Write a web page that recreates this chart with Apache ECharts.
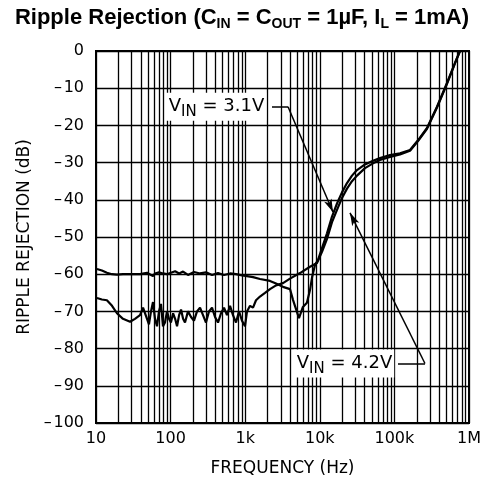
<!DOCTYPE html>
<html><head><meta charset="utf-8">
<script src="https://cdn.jsdelivr.net/npm/echarts@6/dist/echarts.min.js"></script>
<style>html,body{margin:0;padding:0;background:#fff}#c{width:484px;height:495px}</style>
</head><body><div id="c"></div>
<script>
// ---- data ----
const xTickValues = [10, 100, 1000, 10000, 100000, 1000000];
const xTickLabels = ['10', '100', '1k', '10k', '100k', '1M'];
const minorFreqs = [20,30,40,50,60,70,80,90,200,300,400,500,600,700,800,900,2000,3000,4000,5000,6000,7000,8000,9000,20000,30000,40000,50000,60000,70000,80000,90000,200000,300000,400000,500000,600000,700000,800000,900000];
// V_IN = 3.1V curve (freq Hz, dB)
const freqA = [10.3,12,14,16.4,19.1,23,28.6,38.9,48.3,54.6,58.1,61.8,69.9,79.1,89.5,101,115,130,147,171,206,248,298,359,432,520,626,753,906,1057,1273,1579,2150,2588,3211,3985,4370,5260,5940,6720,7400,7880,8620,9450,10700,12490,14570,17010,19840,23150,27010,31530,40360,51660,64120,87310,118900,161900,207200,273500,372400,507000,649000,757000,1000000];
const dbA = [-58.6,-59,-59.6,-60,-60.1,-60,-60,-60,-59.6,-60.2,-60.5,-59.8,-59.5,-59.8,-60,-59.6,-59.2,-59.8,-59.3,-60.2,-59.4,-59.8,-59.5,-60.2,-59.7,-60.2,-59.8,-60,-60.3,-60.5,-60.8,-61.3,-61.8,-62.5,-63.4,-64,-66.9,-71.8,-68.8,-67.7,-64.2,-60.8,-57.5,-56.2,-53,-49,-44.5,-41,-38,-35.5,-33.5,-32,-30.5,-29.5,-28.8,-28,-27.5,-26.6,-24,-20.7,-15,-8.6,-3.2,0,0];
// V_IN = 4.2V curve (freq Hz, dB)
const freqB = [10.3,12,14,16.4,19.1,23,28.6,33.3,38.9,42.7,45.4,48.3,51.3,54.6,58.1,61.8,65.7,69.9,74.3,79.1,84.1,89.5,95.2,101,108,115,122,130,138,147,156,171,188,206,226,248,272,298,327,359,394,432,474,520,570,626,686,753,826,906,994,1057,1160,1273,1396,1579,1843,2150,2588,3211,3985,5427,7390,9173,10700,12490,14570,17010,19840,23150,27010,31530,40360,51660,64120,87310,118900,161900,207200,273500,372400,507000,649000,757000,1000000];
const dbB = [-66.4,-66.8,-67,-68.5,-70.5,-72,-72.8,-72,-71,-69,-68.5,-72,-73.5,-70,-67.5,-72,-74,-70,-68,-74,-73,-70,-72,-73,-70.5,-72,-74,-71,-69.5,-72,-73,-70,-71.5,-72.5,-70,-69,-71,-73,-70,-69,-71.5,-73,-70.5,-69,-71,-68.5,-71,-73,-70,-72.5,-74,-70,-68.5,-69,-67,-66,-65,-64,-63,-62.4,-61.2,-59.7,-58,-57,-54,-50.5,-46,-42.7,-39.5,-37,-35,-33.5,-31.5,-30.2,-29.3,-28.5,-27.8,-26.8,-24.2,-20.9,-15.2,-8.8,-3.3,0,0];
// annotations (data space): label position, leader corner, arrow tip
const ann31 = { text: '3.1V', label: [406, -15], lineStart: [2285, -15], corner: [3750, -15], tip: [15000, -43.3] };
const ann42 = { text: '4.2V', label: [21100, -84], lineStart: [111700, -84], corner: [257000, -84], tip: [25400, -43.5] };

const zip = (xs, ys) => xs.map((x, i) => [x, ys[i]]);
const FONT = 'DejaVu Sans';
const ink = '#000';

function annLines(a) {
  return [
    [{ coord: a.lineStart, symbol: 'none' }, { coord: a.corner, symbol: 'none' }],
    [{ coord: a.corner, symbol: 'none' }, { coord: a.tip, symbol: 'arrow', symbolSize: [6, 13] }]
  ];
}
function annLabel(a) {
  return {
    coord: a.label, value: a.text,
    label: { formatter: '{v|V}{s|IN}{v| = ' + a.text + '}' }
  };
}

const chart = echarts.init(document.getElementById('c'), null, { renderer: 'canvas' });
chart.setOption({
  animation: false,
  backgroundColor: '#fff',
  title: {
    left: 'center', top: 0,
    text: '{a|Ripple Rejection (C}{s|IN}{a| = C}{s|OUT}{a| = 1µF, I}{s|L}{a| = 1mA)}',
    textStyle: {
      rich: {
        a: { fontFamily: 'Liberation Sans', fontWeight: 'bold', fontSize: 22, color: ink, lineHeight: 26 },
        s: { fontFamily: 'Liberation Sans', fontWeight: 'bold', fontSize: 14, color: ink, lineHeight: 14, verticalAlign: 'bottom' }
      }
    }
  },
  grid: { left: 96, right: 15, top: 51, bottom: 72, show: true, borderColor: ink, borderWidth: 2, containLabel: false },
  xAxis: {
    type: 'log', logBase: 10, min: 10, max: 1000000,
    name: 'FREQUENCY (Hz)', nameLocation: 'middle', nameGap: 37,
    nameTextStyle: { fontFamily: FONT, fontSize: 17, color: ink },
    axisLine: { show: true, lineStyle: { color: ink, width: 2 } },
    axisTick: { show: false },
    splitLine: { show: true, lineStyle: { color: ink, width: 1.3 } },
    axisLabel: {
      fontFamily: FONT, fontSize: 16, color: ink, margin: 8,
      formatter: v => { const i = xTickValues.findIndex(t => Math.abs(t - v) / t < 1e-6); return i >= 0 ? xTickLabels[i] : ''; }
    }
  },
  yAxis: {
    type: 'value', min: -100, max: 0, interval: 10,
    name: 'RIPPLE REJECTION (dB)', nameLocation: 'middle', nameGap: 60,
    nameTextStyle: { fontFamily: FONT, fontSize: 17, color: ink },
    axisLine: { show: true, lineStyle: { color: ink, width: 2 } },
    axisTick: { show: false },
    splitLine: { show: true, lineStyle: { color: ink, width: 1.3 } },
    axisLabel: {
      fontFamily: FONT, fontSize: 16, color: ink, margin: 12,
      formatter: v => v < 0 ? '\u2013\u200a' + Math.abs(v) : String(v)
    }
  },
  series: [
    {
      type: 'line', data: [], silent: true,
      markLine: {
        silent: true, symbol: 'none', animation: false,
        lineStyle: { color: ink, width: 1.3, type: 'solid' },
        label: { show: false },
        data: minorFreqs.map(f => ({ xAxis: f }))
      }
    },
    {
      name: 'VIN = 3.1V', type: 'line', data: zip(freqA, dbA), showSymbol: false,
      lineStyle: { color: ink, width: 2.2 }, z: 3
    },
    {
      name: 'VIN = 4.2V', type: 'line', data: zip(freqB, dbB), showSymbol: false,
      lineStyle: { color: ink, width: 2.2 }, z: 3
    },
    {
      type: 'line', data: [], silent: true, z: 5,
      markLine: {
        silent: true, animation: false, symbol: 'none',
        lineStyle: { color: ink, width: 1.5, type: 'solid' },
        label: { show: false },
        data: annLines(ann31).concat(annLines(ann42))
      },
      markPoint: {
        silent: true, animation: false, symbol: 'rect', symbolSize: 0,
        label: {
          show: true, position: 'inside', backgroundColor: '#fff', padding: [1, 2, 1, 3],
          rich: {
            v: { fontFamily: FONT, fontSize: 18, color: ink, lineHeight: 26 },
            s: { fontFamily: FONT, fontSize: 15, color: ink, lineHeight: 16, verticalAlign: 'bottom' }
          }
        },
        data: [annLabel(ann31), annLabel(ann42)]
      }
    }
  ]
});
</script>
</body></html>
